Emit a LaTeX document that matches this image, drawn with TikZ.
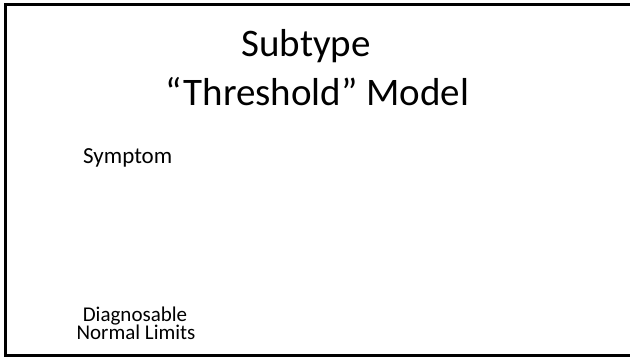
\documentclass[tikz,border=0pt]{standalone}
\usepackage{fontspec}
\setmainfont{Carlito}
\usetikzlibrary{positioning}

\begin{document}
\begin{tikzpicture}[x=1pt, y=1pt,
    title/.style={inner sep=0pt, anchor=base, font=\fontsize{39}{39}\selectfont},
    label/.style={inner sep=0pt, font=\fontsize{21}{18}\selectfont},
    frame/.style={draw=black, line width=2.4pt}
]

    % Frame ------------------------------------------------------

    \useasboundingbox (0,0) rectangle (630,358);
    \clip (0,0) rectangle (630,358);
    \coordinate (tr) at (650,353.5);
    \coordinate (br) at (650,2.5);
    \draw[frame] (tr) -| (5.3,2.5) -- (br);

    % Nodes ------------------------------------------------------

    \node[title] (sub) at (306,301) {Subtype};
    \node[title] (thr) at (317.5,252) {“Threshold” Model};
    \node[label, anchor=base west, font=\fontsize{23}{23}\selectfont] (sym) at (83,194) {Symptom};
    \node[label, anchor=base] (diag) at (135,36) {Diagnosable};
    \node[label, anchor=base] (norm) at (136,18.5) {Normal Limits};

\end{tikzpicture}
\end{document}
